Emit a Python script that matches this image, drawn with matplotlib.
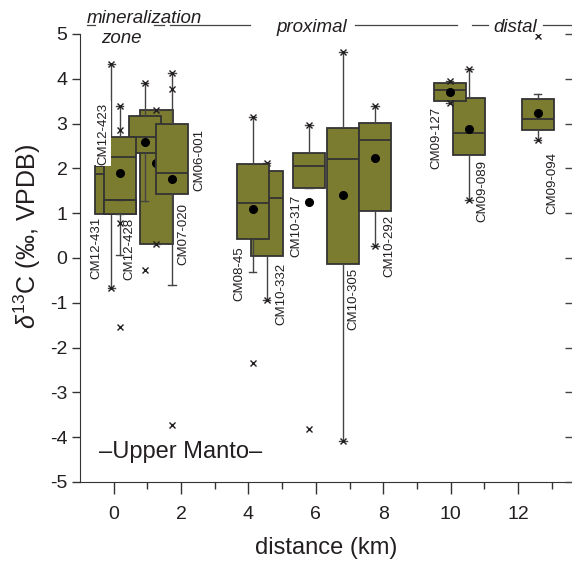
import numpy as np
import matplotlib
matplotlib.use("Agg")
import matplotlib.pyplot as plt

plt.rcParams['font.family'] = ['Liberation Sans', 'DejaVu Sans']
plt.rcParams['mathtext.fontset'] = 'custom'
plt.rcParams['mathtext.rm'] = 'Liberation Sans'
plt.rcParams['mathtext.it'] = 'Liberation Sans:italic'
plt.rcParams['axes.unicode_minus'] = False

# boxes, listed in drawing order (later ones lie on top)
names  = ['CM12-431', 'CM07-020', '', 'CM12-423', 'CM12-428', 'CM06-001',
          'CM10-332', 'CM08-45', 'CM10-317', 'CM10-305', 'CM10-292',
          'CM09-089', 'CM09-127', 'CM09-094']
pos    = [-0.07, 1.27, 0.92, 0.18, 0.18, 1.73,
          4.54, 4.12, 5.79, 6.81, 7.75,
          10.54, 9.97, 12.58]
whislo = [-0.67, 0.32, 1.27, 0.07, 0.98, -0.60,
          -0.94, -0.31, 1.56, -4.08, 0.27,
          1.30, 3.45, 2.63]
q1     = [0.98, 0.32, 2.34, 0.98, 0.98, 1.43,
          0.04, 0.42, 1.56, -0.13, 1.05,
          2.31, 3.51, 2.86]
med    = [1.87, 2.50, 2.70, 2.25, 1.29, 1.90,
          1.34, 1.23, 2.05, 2.21, 2.63,
          2.78, 3.75, 3.10]
q3     = [2.05, 3.31, 3.17, 2.70, 1.29, 2.99,
          1.94, 2.10, 2.34, 2.90, 3.01,
          3.57, 3.90, 3.54]
whishi = [4.33, 3.31, 3.90, 3.39, 1.29, 4.13,
          2.13, 3.15, 2.97, 4.60, 3.39,
          4.22, 3.95, 3.65]
means  = [np.nan, 2.12, 2.59, 1.90, np.nan, 1.76,
          np.nan, 1.09, 1.25, 1.41, 2.23,
          2.87, 3.71, 3.23]
fliers = [[4.33, -0.67], [3.31, 0.32], [3.90, -0.27], [3.39, 2.86, 0.78, -1.54], [],
          [4.13, 3.77, -3.73],
          [2.13, -0.94], [3.15, -2.35], [2.97, -3.82], [4.60, -4.08], [3.39, 0.27],
          [4.22, 1.30], [3.95, 3.45], [4.95, 2.63]]

# sample labels: name, x, y, vertical anchor
lab_names = ['CM12-431', 'CM12-423', 'CM12-428', 'CM07-020', 'CM06-001',
             'CM08-45', 'CM10-332', 'CM10-317', 'CM10-305', 'CM10-292',
             'CM09-127', 'CM09-089', 'CM09-094']
lab_x = [-0.50, -0.31, 0.47, 2.08, 2.55,
         3.74, 4.99, 5.43, 7.12, 8.19,
         9.58, 10.95, 13.03]
lab_y = [0.92, 2.08, 0.89, 1.23, 2.88,
         0.25, -0.11, 1.41, -0.22, 0.96,
         3.37, 2.19, 2.37]
lab_va = ['top', 'bottom', 'top', 'top', 'top',
          'top', 'top', 'top', 'top', 'top',
          'top', 'top', 'top']

ink = '#231f20'
face = '#7c7c30'
edge = '#333333'

fig = plt.figure(figsize=(5.72, 5.62), dpi=100)
ax = fig.add_axes([80/572, 80/562, 492/572, 448/562])

for i in range(len(pos)):
    st = dict(med=med[i], q1=q1[i], q3=q3[i], whislo=whislo[i], whishi=whishi[i],
              mean=means[i], fliers=fliers[i])
    ax.bxp([st], positions=[pos[i]], widths=0.95, patch_artist=True,
           showmeans=True, manage_ticks=False, capwidths=0.22, zorder=2 + i * 0.5,
           boxprops=dict(facecolor=face, edgecolor=edge, linewidth=1.3),
           medianprops=dict(color=edge, linewidth=1.3),
           whiskerprops=dict(color='#444444', linewidth=1.0),
           capprops=dict(color='#444444', linewidth=1.0),
           flierprops=dict(marker='x', markersize=4.5, markeredgecolor=ink,
                           markeredgewidth=1.0, linestyle='none'),
           meanprops=dict(marker='o', markersize=5.5, markerfacecolor='black',
                          markeredgecolor='black'))

for n, x, y, va in zip(lab_names, lab_x, lab_y, lab_va):
    kw = {}
    if n == 'CM12-423':
        kw['bbox'] = dict(facecolor='white', edgecolor='none', pad=1.0)
    ax.text(x, y, n, rotation=90, ha='center', va=va, fontsize=9.5, color=ink,
            zorder=20, **kw)

# zone annotation along the top
segs = [(-0.80, -0.56), (1.19, 1.48), (1.66, 4.04), (7.15, 10.18),
        (10.62, 11.10), (12.73, 13.7)]
for a, b in segs:
    ax.plot([a, b], [5.2, 5.2], color='#444444', lw=0.9, clip_on=False)
ax.text(-0.80, 5.25, 'mineralization', style='italic', fontsize=13.5, color=ink,
        ha='left', va='baseline')
ax.text(-0.36, 5.08, 'zone', style='italic', fontsize=13.5, color=ink,
        ha='left', va='top')
ax.text(5.88, 5.2, 'proximal', style='italic', fontsize=13.5, color=ink,
        ha='center', va='center_baseline')
ax.text(11.9, 5.2, 'distal', style='italic', fontsize=13.5, color=ink,
        ha='center', va='center_baseline')

ax.text(-0.45, -4.33, '\u2013Upper Manto\u2013', fontsize=17, color=ink,
        ha='left', va='center')

ax.set_xlim(-1, 13.6)
ax.set_ylim(-5, 5)
ax.set_xticks(np.arange(0, 13, 2))
ax.set_xticks(np.arange(1, 14, 2), minor=True)
ax.set_yticks(np.arange(-5, 6, 1))
ax.spines['top'].set_visible(False)
ax.spines['right'].set_visible(False)
ax.spines['left'].set_color('#333333')
ax.spines['bottom'].set_color('#333333')
ax.tick_params(axis='x', which='major', direction='out', length=8.5, width=1,
               pad=9, labelsize=14, colors='#333333', labelcolor=ink)
ax.tick_params(axis='x', which='minor', direction='out', length=5, width=1,
               colors='#333333')
ax.tick_params(axis='y', direction='out', length=6, width=1, pad=3,
               labelsize=14, colors='#333333', labelcolor=ink)

ax.set_xlabel('distance (km)', fontsize=17, color=ink)
ax.xaxis.set_label_coords(0.5, -0.123)
ax.xaxis.label.set_va('top')
ax.set_ylabel(r'$\mathit{\delta}^{13}$C (‰, VPDB)', fontsize=18, color=ink)
ax.yaxis.set_label_coords(-0.075, 0.549)

# ticks of the neighbouring panel at the right edge
ax2 = ax.twinx()
ax2.set_ylim(-5, 5)
ax2.set_yticks(np.arange(-5, 6, 1))
for s in ax2.spines.values():
    s.set_visible(False)
ax2.tick_params(axis='y', direction='in', length=5, width=1, colors='#444444',
                labelright=False)

fig.savefig('out.png', dpi=100)
